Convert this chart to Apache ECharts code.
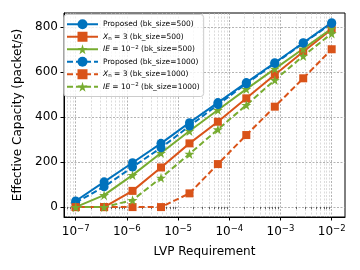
<!DOCTYPE html>
<html>
<head>
<meta charset="utf-8">
<script src="https://cdn.jsdelivr.net/npm/echarts@6/dist/echarts.min.js"></script>
<style>html,body{margin:0;padding:0;background:#fff;}#c{width:360px;height:270px;}</style>
</head>
<body>
<div id="c"></div>
<script>
const LVP = [1e-7, 3.59e-7, 1.29e-6, 4.64e-6, 1.67e-5, 5.99e-5, 2.15e-4, 7.74e-4, 2.78e-3, 1e-2];
const proposed500 = [27, 112, 197, 283, 375, 464, 553, 641, 730, 819];
const xn500 = [0, 0, 72, 176, 283, 379, 483, 588, 690, 790];
const ie500 = [0, 53, 142, 240, 338, 431, 524, 614, 703, 793];
const proposed1000 = [20, 90, 178, 263, 360, 455, 548, 638, 728, 815];
const xn1000 = [0, 0, 0, 0, 61, 191, 320, 446, 572, 701];
const ie1000 = [0, 0, 31, 130, 236, 345, 453, 564, 671, 771];
const xTickExps = [-7, -6, -5, -4, -3, -2];
const yTicks = [0, 200, 400, 600, 800];
const seriesNames = [
  'Proposed (bk_size=500)', 'Xn = 3 (bk_size=500)', 'IE = 10^-2 (bk_size=500)',
  'Proposed (bk_size=1000)', 'Xn = 3 (bk_size=1000)', 'IE = 10^-2 (bk_size=1000)'
];
const legendRich = {
  'Proposed (bk_size=500)': 'Proposed (bk_size=500)',
  'Xn = 3 (bk_size=500)': '{i|X}{sub|n} = 3 (bk_size=500)',
  'IE = 10^-2 (bk_size=500)': '{i|IE} = 10{sup|\u22122} (bk_size=500)',
  'Proposed (bk_size=1000)': 'Proposed (bk_size=1000)',
  'Xn = 3 (bk_size=1000)': '{i|X}{sub|n} = 3 (bk_size=1000)',
  'IE = 10^-2 (bk_size=1000)': '{i|IE} = 10{sup|\u22122} (bk_size=1000)'
};

const XMIN = -7.228, XMAX = -1.74, YMIN = -44, YMAX = 862;
const minorVals = [];
for (let e = -8; e <= -2; e++) {
  for (let k = 2; k <= 9; k++) {
    const v = Math.log10(k) + e;
    if (v > XMIN && v < XMAX) minorVals.push(v);
  }
}
const BLUE = '#0072BD', ORANGE = '#D95319', GREEN = '#77AC30';
const STAR = 'path://M50,0 L61,35 L98,35 L68,57 L79,91 L50,70 L21,91 L32,57 L2,35 L39,35 Z';
const FONT = 'DejaVu Sans';

function mk(name, arr, color, symbol, size, dashed) {
  return {
    name: name, type: 'line',
    data: LVP.map((x, i) => [Math.log10(x), arr[i]]),
    symbol: symbol, symbolSize: size,
    itemStyle: {color: color},
    lineStyle: {color: color, width: 2, type: dashed ? [6, 3] : 'solid'},
    emphasis: {disabled: true}, animation: false
  };
}

const chart = echarts.init(document.getElementById('c'), null, {renderer: 'canvas'});
chart.setOption({
  animation: false,
  grid: {left: 64, right: 15, top: 13, bottom: 53, show: true, borderColor: '#000', borderWidth: 1, backgroundColor: 'transparent'},
  legend: {
    left: 64, top: 14.5, orient: 'vertical',
    itemWidth: 31, itemHeight: 12.5, itemGap: 0,
    padding: [3.5, 4, 3.5, 2],
    backgroundColor: 'rgba(255,255,255,0.8)', borderColor: '#cccccc', borderWidth: 1, borderRadius: 3,
    data: seriesNames,
    formatter: name => legendRich[name],
    textStyle: {
      fontSize: 7.5, lineHeight: 12.5, fontFamily: FONT, color: '#000',
      rich: {
        i: {fontStyle: 'italic', fontSize: 7.5, lineHeight: 12.5, fontFamily: FONT, color: '#000'},
        sub: {fontSize: 5.5, lineHeight: 12.5, fontFamily: FONT, color: '#000', padding: [3, 0, 0, 0]},
        sup: {fontSize: 5.5, lineHeight: 12.5, fontFamily: FONT, color: '#000', padding: [0, 0, 4, 0]}
      }
    }
  },
  xAxis: [{
    type: 'value', min: XMIN, max: XMAX,
    name: 'LVP Requirement', nameLocation: 'middle', nameGap: 29,
    nameTextStyle: {fontSize: 12, fontFamily: FONT, color: '#000'},
    axisLine: {show: true, onZero: false, lineStyle: {color: '#000', width: 1}},
    axisTick: {show: true, customValues: xTickExps, length: 3.5, lineStyle: {color: '#000', width: 1}},
    axisLabel: {
      customValues: xTickExps, margin: 7, fontSize: 12, fontFamily: FONT, color: '#000',
      formatter: v => '{b|10}{s|\u2212' + Math.round(-v) + '}',
      rich: {
        b: {fontSize: 12, fontFamily: FONT, color: '#000'},
        s: {fontSize: 8.5, fontFamily: FONT, color: '#000', padding: [0, 0, 7, 0]}
      }
    },
    splitLine: {show: true, customValues: xTickExps, lineStyle: {color: '#a0a0a0', width: 0.8, type: [2, 1.5]}}
  }, {
    type: 'value', min: XMIN, max: XMAX, position: 'bottom', gridIndex: 0,
    axisLine: {show: false},
    axisTick: {show: true, customValues: minorVals, length: 2, lineStyle: {color: '#000', width: 0.6}},
    axisLabel: {show: false},
    splitLine: {show: true, customValues: minorVals, lineStyle: {color: '#c4c4c4', width: 0.6, type: [2, 1.5]}}
  }],
  yAxis: {
    type: 'value', min: YMIN, max: YMAX,
    name: 'Effective Capacity (packet/s)', nameLocation: 'middle', nameGap: 38, nameRotate: 90,
    nameTextStyle: {fontSize: 12, fontFamily: FONT, color: '#000'},
    axisLine: {show: true, onZero: false, lineStyle: {color: '#000', width: 1}},
    axisTick: {show: true, customValues: yTicks, length: 3.5, lineStyle: {color: '#000', width: 1}},
    axisLabel: {customValues: yTicks, margin: 6, fontSize: 12, fontFamily: FONT, color: '#000'},
    splitLine: {show: true, customValues: yTicks, lineStyle: {color: '#a0a0a0', width: 0.8, type: [2, 1.5]}}
  },
  series: [
    mk(seriesNames[0], proposed500, BLUE, 'circle', 9, false),
    mk(seriesNames[1], xn500, ORANGE, 'rect', 8, false),
    mk(seriesNames[2], ie500, GREEN, STAR, 10, false),
    mk(seriesNames[3], proposed1000, BLUE, 'circle', 9, true),
    mk(seriesNames[4], xn1000, ORANGE, 'rect', 8, true),
    mk(seriesNames[5], ie1000, GREEN, STAR, 10, true)
  ]
});
</script>
</body>
</html>
